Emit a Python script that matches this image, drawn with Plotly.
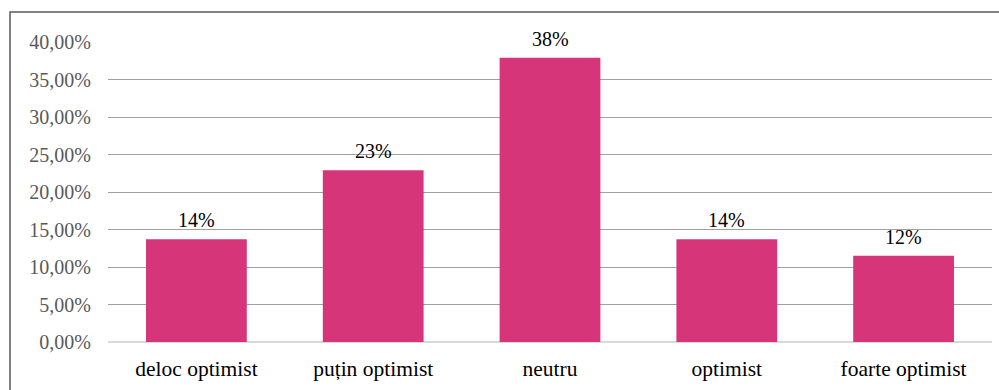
import plotly.graph_objects as go

categories = ["deloc optimist", "puțin optimist", "neutru", "optimist", "foarte optimist"]
values = [0.137, 0.229, 0.379, 0.137, 0.115]
labels = ["14%", "23%", "38%", "14%", "12%"]

BAR_COLOR = "#D6357A"
FONT = "'Liberation Serif', 'Times New Roman', serif"

W, H = 999, 390
L, R, T, B = 108, 7, 42, 48
pw, ph = W - L - R, H - T - B

fig = go.Figure(go.Bar(x=categories, y=values, marker=dict(color=BAR_COLOR, line=dict(width=0)),
                       width=0.57, hoverinfo="skip"))

for c, v, t in zip(categories, values, labels):
    fig.add_annotation(x=c, y=v, text=t, showarrow=False, yanchor="bottom", yshift=6,
                       font=dict(family=FONT, size=20, color="#000000"))

fig.add_shape(type="rect", xref="paper", yref="paper",
              x0=(10 - L) / pw, x1=(W + 20 - L) / pw,
              y0=-(H + 20 - T - ph) / ph, y1=(T + ph - 12) / ph,
              line=dict(color="#595959", width=1.5), fillcolor="rgba(0,0,0,0)", layer="above")

fig.update_layout(
    width=W, height=H,
    margin=dict(l=L, r=R, t=T, b=B, pad=0),
    paper_bgcolor="white", plot_bgcolor="white",
    separators=",.",
    showlegend=False,
    font=dict(family=FONT, size=20, color="#000000"),
    xaxis=dict(showgrid=False, showline=False, ticks="", ticklabelstandoff=11,
               tickfont=dict(family=FONT, size=21.5, color="#000000")),
    yaxis=dict(range=[0, 0.40], dtick=0.05, tickformat=".2%", showgrid=True,
               gridcolor="#a0a0a0", gridwidth=1, zeroline=True, zerolinecolor="#d9d9d9",
               zerolinewidth=1.5, showline=False, ticks="", ticklabelstandoff=16,
               tickfont=dict(family=FONT, size=20, color="#595959")),
)

fig.write_html("out.html")
